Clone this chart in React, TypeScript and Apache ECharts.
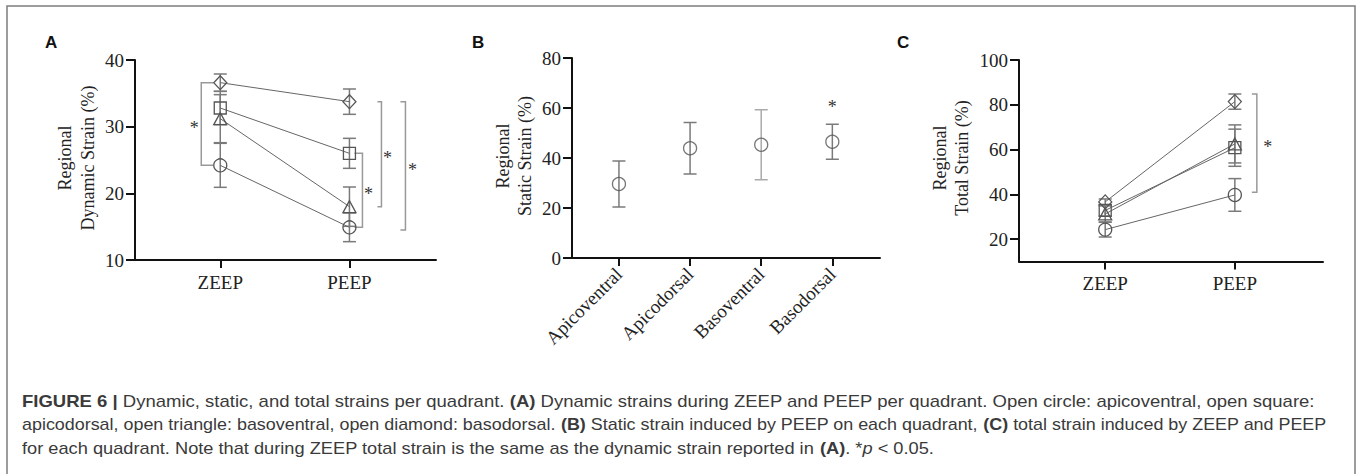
import React, { useEffect, useRef } from "react";
import * as echarts from "echarts";

const groups = ["ZEEP", "PEEP"];
const quadrants = ["Apicoventral", "Apicodorsal", "Basoventral", "Basodorsal"];
const quadSymbols = ["circle", "rect", "triangle", "diamond"];

// Panel A: dynamic strain (%), [ZEEP, PEEP] per quadrant
const dynMean = [
  [24.2, 14.9],
  [32.8, 26.0],
  [31.2, 18.0],
  [36.6, 33.75],
];
const dynSd = [
  [3.3, 2.15],
  [2.5, 2.25],
  [3.6, 2.95],
  [1.3, 1.9],
];

// Panel B: static strain (%) per quadrant
const statMean = [29.6, 43.9, 45.3, 46.5];
const statSd = [9.2, 10.3, 14.0, 7.0];

// Panel C: total strain (%), [ZEEP, PEEP] per quadrant
const totMean = [
  [24.2, 39.7],
  [32.8, 60.8],
  [31.2, 62.5],
  [36.6, 81.4],
];
const totSd = [
  [3.3, 7.3],
  [2.5, 8.3],
  [3.6, 8.5],
  [1.3, 3.4],
];

const yTicksA = [10, 20, 30, 40];
const yTicksB = [0, 20, 40, 60, 80];
const yTicksC = [20, 40, 60, 80, 100];

// significance brackets: [category, yTop, yBottom]
const bracketsA = [
  [0, 36.6, 24.2],
  [1, 26.0, 14.9],
  [1, 33.75, 18.0],
  [1, 33.75, 14.5],
];
const starB = [[3, 62]];
const bracketsC = [[1, 84.8, 40.9]];

const captionLines = [
  "{b|FIGURE 6 |} Dynamic, static, and total strains per quadrant. {b|(A)} Dynamic strains during ZEEP and PEEP per quadrant. Open circle: apicoventral, open square:",
  "apicodorsal, open triangle: basoventral, open diamond: basodorsal. {b|(B)} Static strain induced by PEEP on each quadrant, {b|(C)} total strain induced by ZEEP and PEEP",
  "for each quadrant. Note that during ZEEP total strain is the same as the dynamic strain reported in {b|(A)}. *{i|p} < 0.05.",
];
const captionStretch = [1.157, 1.12, 1.14];

const SERIF = "'Liberation Serif', 'Times New Roman', serif";
const SANS = "'Liberation Sans', Arial, sans-serif";
const AXIS_COLOR = "#111";
const MARK_COLOR = "#555";
const ERR_COLOR = "#7a7a7a";
const BRACKET_COLOR = "#999";

const symbolSizes: any = {
  circle: 13,
  rect: 12,
  triangle: [13, 12],
  diamond: [13, 14],
};

function errorSeries(xi: number, yi: number, data: number[][], colors?: string[]) {
  return {
    type: "custom",
    xAxisIndex: xi,
    yAxisIndex: yi,
    z: 2,
    silent: true,
    data,
    renderItem: (params: any, api: any) => {
      const x = api.value(0);
      const lo = api.value(1);
      const hi = api.value(2);
      const pt = api.coord([x, hi]);
      const pb = api.coord([x, lo]);
      const hw = 6.5;
      const stroke = colors ? colors[params.dataIndex] : ERR_COLOR;
      const style = { stroke, lineWidth: 1.5, fill: "none" };
      return {
        type: "group",
        children: [
          { type: "line", shape: { x1: pt[0], y1: pt[1], x2: pb[0], y2: pb[1] }, style },
          { type: "line", shape: { x1: pt[0] - hw, y1: pt[1], x2: pt[0] + hw, y2: pt[1] }, style },
          { type: "line", shape: { x1: pb[0] - hw, y1: pb[1], x2: pb[0] + hw, y2: pb[1] }, style },
        ],
      };
    },
  };
}

function bracketSeries(
  xi: number,
  yi: number,
  data: number[][],
  geom: { vx: number; tx: number; sx: number }[]
) {
  return {
    type: "custom",
    xAxisIndex: xi,
    yAxisIndex: yi,
    z: 1,
    silent: true,
    data,
    renderItem: (params: any, api: any) => {
      const g = geom[params.dataIndex];
      const x = api.value(0);
      const p1 = api.coord([x, api.value(1)]);
      const p2 = api.coord([x, api.value(2)]);
      const vx = p1[0] + g.vx;
      const tx = p1[0] + g.tx;
      const style = { stroke: BRACKET_COLOR, lineWidth: 1.5, fill: "none" };
      return {
        type: "group",
        children: [
          {
            type: "polyline",
            shape: { points: [[tx, p1[1]], [vx, p1[1]], [vx, p2[1]], [tx, p2[1]]] },
            style,
          },
          {
            type: "text",
            x: p1[0] + g.sx,
            y: (p1[1] + p2[1]) / 2 + 4,
            style: {
              text: "*",
              fill: "#333",
              font: `18px ${SERIF}`,
              align: "center",
              verticalAlign: "middle",
            },
          },
        ],
      };
    },
  };
}

function starSeries(xi: number, yi: number, data: number[][]) {
  return {
    type: "custom",
    xAxisIndex: xi,
    yAxisIndex: yi,
    silent: true,
    data,
    renderItem: (params: any, api: any) => {
      const p = api.coord([api.value(0), api.value(1)]);
      return {
        type: "text",
        x: p[0],
        y: p[1] + 4,
        style: {
          text: "*",
          fill: "#333",
          font: `18px ${SERIF}`,
          align: "center",
          verticalAlign: "middle",
        },
      };
    },
  };
}

function xAxisCfg(gi: number, min: number, max: number, labels: string[], rotate = 0) {
  const vals = labels.map((_, i) => i);
  return {
    type: "value",
    gridIndex: gi,
    min,
    max,
    axisLine: { show: true, onZero: false, lineStyle: { color: AXIS_COLOR, width: 2 } },
    axisTick: { show: true, customValues: vals, length: 8, lineStyle: { color: AXIS_COLOR, width: 2 } },
    axisLabel: {
      show: true,
      customValues: vals,
      formatter: (v: number) => labels[Math.round(v)] ?? "",
      color: "#222",
      fontFamily: SERIF,
      fontSize: 19,
      margin: 13,
      rotate,
    },
    splitLine: { show: false },
  };
}

function yAxisCfg(gi: number, min: number, max: number, ticks: number[]) {
  return {
    type: "value",
    gridIndex: gi,
    min,
    max,
    axisLine: { show: true, onZero: false, lineStyle: { color: AXIS_COLOR, width: 2 } },
    axisTick: { show: true, customValues: ticks, length: 9, lineStyle: { color: AXIS_COLOR, width: 2 } },
    axisLabel: {
      show: true,
      customValues: ticks,
      color: "#222",
      fontFamily: SERIF,
      fontSize: 19,
      margin: 11,
    },
    splitLine: { show: false },
  };
}

function lineSeries(xi: number, yi: number, means: number[][]) {
  return means.map((m, q) => ({
    type: "line",
    name: quadrants[q],
    xAxisIndex: xi,
    yAxisIndex: yi,
    z: 3,
    data: m.map((v, i) => [i, v]),
    symbol: quadSymbols[q],
    symbolSize: symbolSizes[quadSymbols[q]],
    showSymbol: true,
    lineStyle: { color: "#666", width: 1 },
    itemStyle: { color: "rgba(255,255,255,0)", borderColor: MARK_COLOR, borderWidth: 1.3 },
    silent: true,
  }));
}

function errData(means: number[][], sds: number[][]) {
  const out: number[][] = [];
  means.forEach((m, q) =>
    m.forEach((v, i) => out.push([i, v - sds[q][i], v + sds[q][i]]))
  );
  return out;
}

function yName(x1: number, x2: number, y: number, l1: string, l2: string) {
  const mk = (x: number, t: string) => ({
    type: "text",
    x,
    y,
    rotation: Math.PI / 2,
    style: {
      text: t,
      fill: "#222",
      font: `18px ${SERIF}`,
      align: "center",
      verticalAlign: "middle",
    },
  });
  return [mk(x1, l1), mk(x2, l2)];
}

export default function App() {
  const ref = useRef<HTMLDivElement>(null);
  useEffect(() => {
    if (!ref.current) return;
    const chart = echarts.init(ref.current, undefined, { renderer: "svg" });

    const staticData = statMean.map((v, i) => [i, v]);
    const staticErr = statMean.map((v, i) => [i, v - statSd[i], v + statSd[i]]);

    const option: any = {
      animation: false,
      backgroundColor: "#fff",
      grid: [
        { left: 135, top: 60, width: 301, height: 200, outerBoundsMode: "none", containLabel: false },
        { left: 572, top: 58, width: 308, height: 200, outerBoundsMode: "none", containLabel: false },
        { left: 1019, top: 60, width: 304, height: 201.4, outerBoundsMode: "none", containLabel: false },
      ],
      xAxis: [
        xAxisCfg(0, -0.66, 1.67, groups),
        xAxisCfg(1, -0.66, 3.67, quadrants, 45),
        xAxisCfg(2, -0.665, 1.68, groups),
      ],
      yAxis: [
        yAxisCfg(0, 10, 40, yTicksA),
        yAxisCfg(1, 0, 80, yTicksB),
        yAxisCfg(2, 10, 100, yTicksC),
      ],
      series: [
        errorSeries(0, 0, errData(dynMean, dynSd)),
        bracketSeries(0, 0, bracketsA, [
          { vx: -19, tx: -7, sx: -26 },
          { vx: 13, tx: 5, sx: 19 },
          { vx: 32, tx: 28, sx: 38 },
          { vx: 56, tx: 51, sx: 63 },
        ]),
        ...lineSeries(0, 0, dynMean),

        errorSeries(1, 1, staticErr, ["#7a7a7a", "#7a7a7a", "#aaa", "#7a7a7a"]),
        {
          type: "scatter",
          xAxisIndex: 1,
          yAxisIndex: 1,
          z: 3,
          data: staticData,
          symbol: "circle",
          symbolSize: 13,
          itemStyle: { color: "rgba(255,255,255,0)", borderColor: MARK_COLOR, borderWidth: 1.3 },
          silent: true,
        },
        starSeries(1, 1, starB),

        errorSeries(2, 2, errData(totMean, totSd)),
        bracketSeries(2, 2, bracketsC, [{ vx: 22, tx: 17, sx: 33 }]),
        ...lineSeries(2, 2, totMean),
      ],
      graphic: [
        {
          type: "polyline",
          shape: { points: [[7, 480], [7, 6], [1355, 6], [1355, 480]] },
          style: { stroke: "#7d7d7d", lineWidth: 1.5, fill: "none" },
          silent: true,
        },
        { type: "text", x: 45, y: 42, style: { text: "A", font: `bold 17px ${SANS}`, fill: "#111", verticalAlign: "middle" } },
        { type: "text", x: 472, y: 42, style: { text: "B", font: `bold 17px ${SANS}`, fill: "#111", verticalAlign: "middle" } },
        { type: "text", x: 897, y: 42, style: { text: "C", font: `bold 17px ${SANS}`, fill: "#111", verticalAlign: "middle" } },
        ...yName(65, 88, 158, "Regional", "Dynamic Strain (%)"),
        ...yName(503, 525, 156, "Regional", "Static Strain (%)"),
        ...yName(940, 962, 158, "Regional", "Total Strain (%)"),
        ...captionLines.map((t, i) => ({
          type: "text",
          x: 22,
          y: 401 + i * 23.8,
          scaleX: captionStretch[i],
          style: {
            text: t,
            fill: "#3a3a3a",
            font: `16px ${SANS}`,
            verticalAlign: "middle",
            rich: {
              b: { fontWeight: "bold", fontSize: 16, fontFamily: SANS, fill: "#3a3a3a" },
              i: { fontStyle: "italic", fontSize: 16, fontFamily: SANS, fill: "#3a3a3a" },
            },
          },
        })),
      ],
    };
    chart.setOption(option);
    return () => chart.dispose();
  }, []);

  return (
    <div
      ref={ref}
      style={{ position: "fixed", left: 0, top: 0, width: 1357, height: 474, background: "#fff" }}
    />
  );
}
